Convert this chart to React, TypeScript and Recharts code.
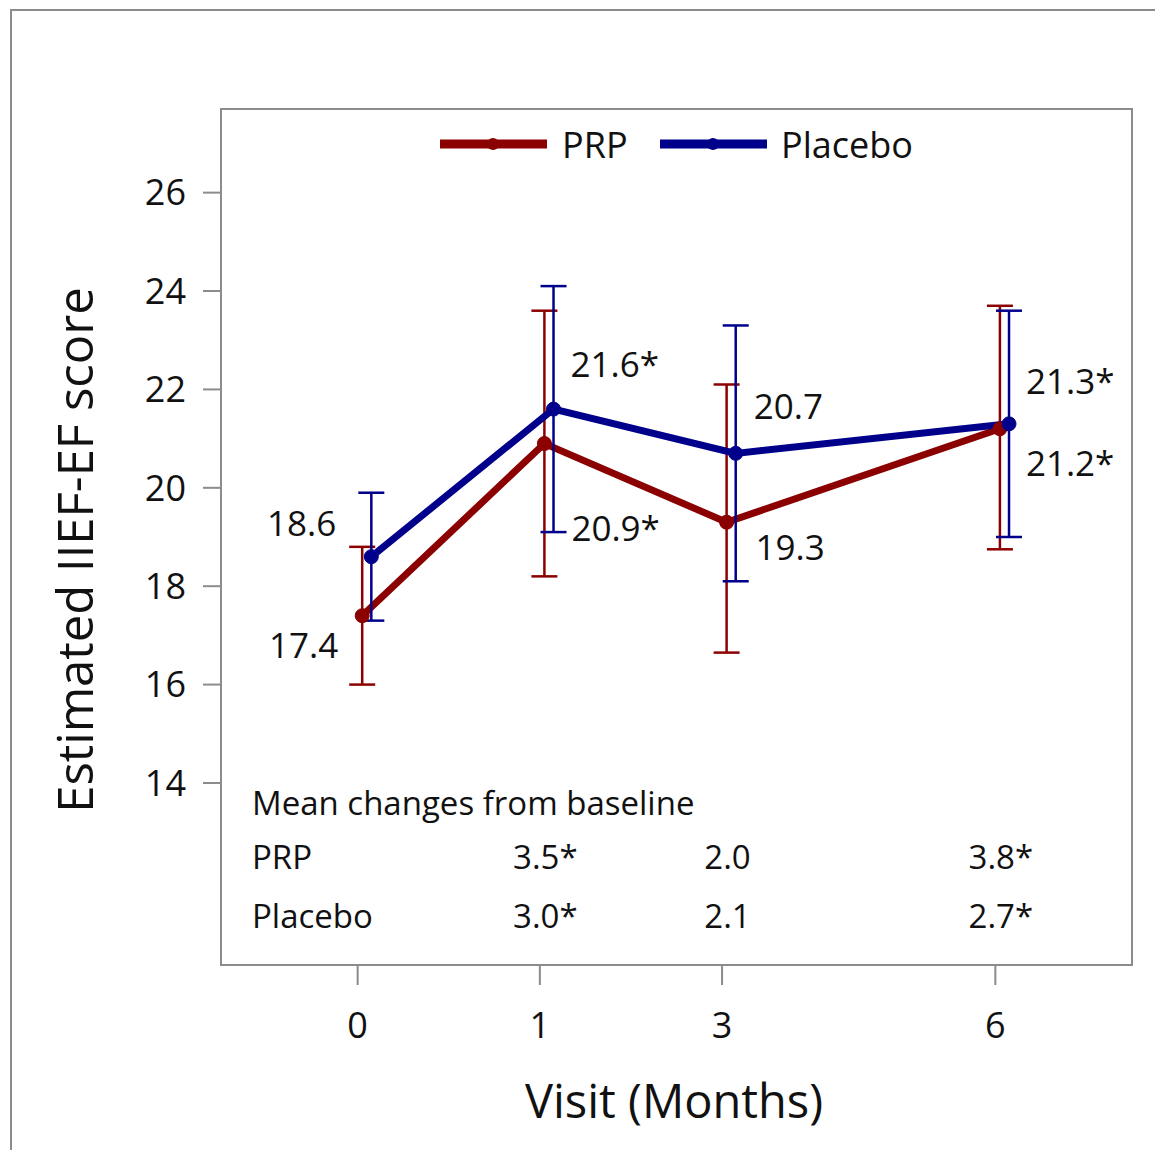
import {
  ComposedChart,
  Line,
  Scatter,
  XAxis,
  YAxis,
  ErrorBar,
  LabelList,
  ReferenceArea,
  Legend,
} from 'recharts'

// visits and their spacing along the axis (6 months sits 1.5 steps after 3)
const visits = ['0', '1', '3', '6']
const visitPos = [0, 1, 2, 3.5]

const prpMean = [17.4, 20.9, 19.3, 21.2]
const prpLow = [16.0, 18.2, 16.65, 18.75]
const prpHigh = [18.8, 23.6, 22.1, 23.7]
const prpLabels = ['17.4', '20.9*', '19.3', '21.2*']

const placeboMean = [18.6, 21.6, 20.7, 21.3]
const placeboLow = [17.3, 19.1, 18.1, 19.0]
const placeboHigh = [19.9, 24.1, 23.3, 23.6]
const placeboLabels = ['18.6', '21.6*', '20.7', '21.3*']

const prpChange = ['', '3.5*', '2.0', '3.8*']
const placeboChange = ['', '3.0*', '2.1', '2.7*']

const yTicks = [14, 16, 18, 20, 22, 24, 26]

const RED = '#8b0000'
const BLUE = '#00008b'
const GRAY = '#8c8c8c'
const INK = '#111'
const FONT = '"Open Sans", sans-serif'

const X_DOMAIN: [number, number] = [-0.75, 4.25]
const Y_DOMAIN: [number, number] = [10.3, 27.7]
const PRP_SHIFT = 0.025
const PLACEBO_SHIFT = 0.075

// label placement next to each point, in pixels
const prpLabelPos = [
  { dx: -24, dy: 29, anchor: 'end' },
  { dx: 27, dy: 84, anchor: 'start' },
  { dx: 29, dy: 24, anchor: 'start' },
  { dx: 26, dy: 34, anchor: 'start' },
]
const placeboLabelPos = [
  { dx: -35, dy: -34, anchor: 'end' },
  { dx: 17, dy: -46, anchor: 'start' },
  { dx: 18, dy: -48, anchor: 'start' },
  { dx: 17, dy: -43, anchor: 'start' },
]

const buildSeries = (mean: number[], low: number[], high: number[], labels: string[], shift: number) =>
  visitPos.map((p, i) => ({
    x: p + shift,
    y: mean[i],
    err: [mean[i] - low[i], high[i] - mean[i]],
    label: labels[i],
  }))

const prpData = buildSeries(prpMean, prpLow, prpHigh, prpLabels, PRP_SHIFT)
const placeboData = buildSeries(placeboMean, placeboLow, placeboHigh, placeboLabels, PLACEBO_SHIFT)

const TABLE_LEFT = -0.58
const TABLE_ROWS = { title: 13.6, prp: 12.5, placebo: 11.3 }
const tableData = [
  { x: TABLE_LEFT, y: TABLE_ROWS.title, text: 'Mean changes from baseline', anchor: 'start' },
  { x: TABLE_LEFT, y: TABLE_ROWS.prp, text: 'PRP', anchor: 'start' },
  { x: TABLE_LEFT, y: TABLE_ROWS.placebo, text: 'Placebo', anchor: 'start' },
  ...visitPos.flatMap((p, i) =>
    prpChange[i]
      ? [
          { x: p + 0.03, y: TABLE_ROWS.prp, text: prpChange[i], anchor: 'middle' },
          { x: p + 0.03, y: TABLE_ROWS.placebo, text: placeboChange[i], anchor: 'middle' },
        ]
      : []
  ),
]

const pointLabel = (pos: typeof prpLabelPos) => (props: any) => {
  const { x, y, value, index } = props
  const p = pos[index]
  return (
    <text
      x={x + p.dx}
      y={y + p.dy}
      textAnchor={p.anchor}
      dominantBaseline="central"
      fontSize={35}
      fontFamily={FONT}
      fill={INK}
    >
      {value}
    </text>
  )
}

const TableCell = (props: any) => {
  const { cx, cy, payload } = props
  return (
    <text
      x={cx}
      y={cy}
      textAnchor={payload.anchor}
      dominantBaseline="central"
      fontSize={33}
      fontFamily={FONT}
      fill={INK}
    >
      {payload.text}
    </text>
  )
}

const legendX = [
  { line: 440, text: 562 },
  { line: 660, text: 781 },
]

const LegendContent = (props: any) => {
  const items = (props.payload || []).filter((d: any) => d.type === 'line')
  return (
    <svg width={1155} height={50} style={{ display: 'block' }}>
      {items.map((d: any, i: number) => (
        <g key={d.value}>
          <line x1={legendX[i].line} x2={legendX[i].line + 107} y1={25} y2={25} stroke={d.color} strokeWidth={9} />
          <circle cx={legendX[i].line + 53} cy={25} r={6} fill={d.color} />
          <text x={legendX[i].text} y={25} dominantBaseline="central" fontSize={36} fontFamily={FONT} fill={INK}>
            {d.value}
          </text>
        </g>
      ))}
    </svg>
  )
}

export default function App() {
  return (
    <div style={{ position: 'absolute', left: 0, top: 0, width: 1155, height: 1150, overflow: 'hidden', background: '#fff' }}>
      <div
        style={{
          position: 'absolute',
          left: 10,
          top: 9,
          width: 1200,
          height: 1200,
          border: `2px solid ${GRAY}`,
        }}
      />
      <div style={{ position: 'absolute', left: 0, top: 0 }}>
        <ComposedChart width={1155} height={1150} margin={{ top: 109, right: 23, bottom: 0, left: 0 }}>
          <XAxis
            type="number"
            dataKey="x"
            domain={X_DOMAIN}
            ticks={visitPos}
            tickFormatter={(v: number) => visits[visitPos.indexOf(v)]}
            allowDataOverflow
            height={185}
            axisLine={false}
            tickLine={{ stroke: GRAY, strokeWidth: 2 }}
            tickSize={20}
            tickMargin={27}
            tick={{ fill: INK, fontSize: 36, fontFamily: FONT }}
            label={{
              content: () => (
                <text
                  x={674}
                  y={1100}
                  textAnchor="middle"
                  dominantBaseline="central"
                  fontSize={47}
                  fontFamily={FONT}
                  fill={INK}
                >
                  Visit (Months)
                </text>
              ),
            }}
          />
          <YAxis
            type="number"
            dataKey="y"
            domain={Y_DOMAIN}
            ticks={yTicks}
            allowDataOverflow
            width={221}
            axisLine={false}
            tickLine={{ stroke: GRAY, strokeWidth: 2 }}
            tickSize={18}
            tickMargin={17}
            tick={{ fill: INK, fontSize: 36, fontFamily: FONT }}
            label={{
              content: () => (
                <text
                  x={74}
                  y={550}
                  transform="rotate(-90, 74, 550)"
                  textAnchor="middle"
                  dominantBaseline="central"
                  fontSize={49}
                  fontFamily={FONT}
                  fill={INK}
                >
                  Estimated IIEF-EF score
                </text>
              ),
            }}
          />
          <ReferenceArea
            x1={X_DOMAIN[0]}
            x2={X_DOMAIN[1]}
            y1={Y_DOMAIN[0]}
            y2={Y_DOMAIN[1]}
            fill="none"
            stroke={GRAY}
            strokeWidth={2}
          />
          <Legend
            layout="horizontal"
            verticalAlign="middle"
            align="center"
            wrapperStyle={{ position: 'absolute', top: 119, left: 0, width: 1155 }}
            content={LegendContent}
          />
          <Line
            data={prpData}
            dataKey="y"
            name="PRP"
            stroke={RED}
            strokeWidth={7}
            dot={{ r: 7, fill: RED, stroke: RED, strokeWidth: 1 }}
            activeDot={false}
            isAnimationActive={false}
          >
            <ErrorBar dataKey="err" direction="y" width={13} stroke={RED} strokeWidth={2.5} />
            <LabelList dataKey="label" content={pointLabel(prpLabelPos)} />
          </Line>
          <Line
            data={placeboData}
            dataKey="y"
            name="Placebo"
            stroke={BLUE}
            strokeWidth={7}
            dot={{ r: 7, fill: BLUE, stroke: BLUE, strokeWidth: 1 }}
            activeDot={false}
            isAnimationActive={false}
          >
            <ErrorBar dataKey="err" direction="y" width={13} stroke={BLUE} strokeWidth={2.5} />
            <LabelList dataKey="label" content={pointLabel(placeboLabelPos)} />
          </Line>
          <Scatter data={tableData} dataKey="y" legendType="none" shape={TableCell} isAnimationActive={false} />
        </ComposedChart>
      </div>
    </div>
  )
}
